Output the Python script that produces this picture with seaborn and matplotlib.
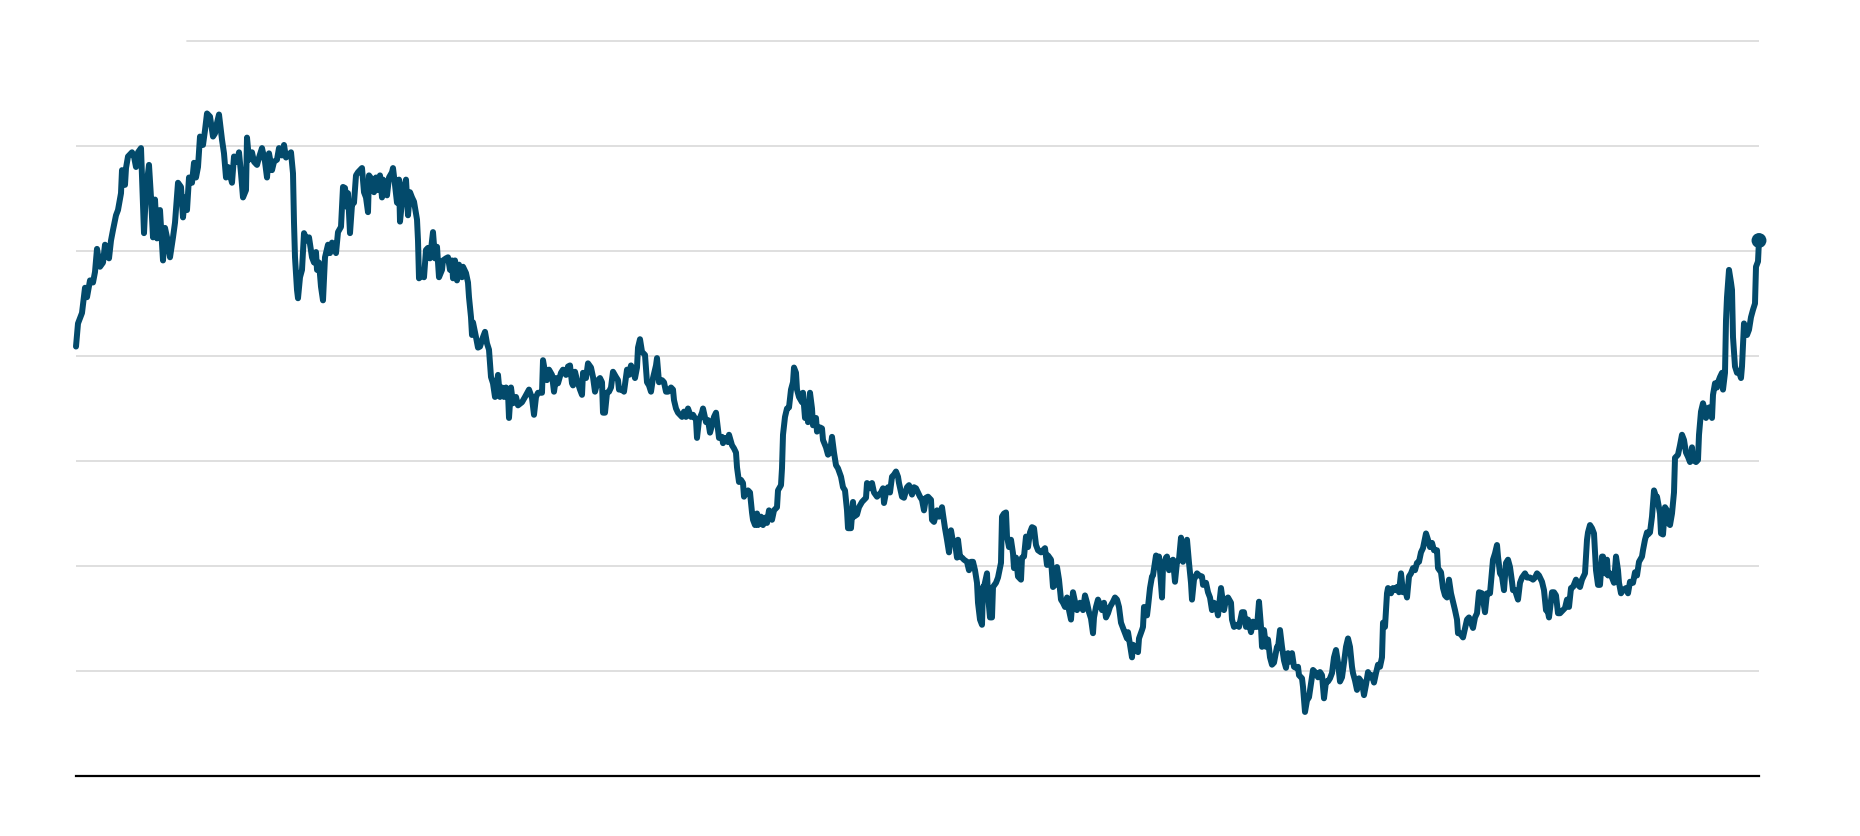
import pandas as pd
import seaborn as sns
import matplotlib.pyplot as plt

# weekly series (weeks since start, index value)
WEEK = [
    0, 2, 6, 9, 11, 14, 17, 19, 21, 24, 27, 29, 31, 33, 35, 37, 40, 42, 45, 46,
    49, 50, 52, 56, 58, 60, 62, 65, 66, 68, 70, 73, 75, 77, 79, 81, 84, 87, 89, 91,
    94, 97, 99, 102, 105, 107, 109, 111, 113, 116, 118, 120, 122, 124, 127, 129, 131, 134, 137, 139,
    141, 143, 146, 148, 150, 152, 156, 158, 161, 163, 165, 167, 170, 171, 173, 176, 178, 181, 183, 186,
    189, 191, 193, 196, 198, 201, 203, 206, 208, 210, 212, 215, 217, 218, 219, 221, 222, 224,
    226, 228, 231, 233, 236, 238, 240, 241, 243, 245, 247, 249, 252, 254, 256, 258, 260, 262, 265, 267,
    269, 271, 272, 274, 276, 278, 280, 282, 286, 288, 290, 292, 293, 296, 298, 300, 302, 304, 306, 307,
    309, 311, 313, 316, 317, 319, 321, 323, 324, 326, 327, 330, 332, 334, 336, 338, 341, 342, 343, 346,
    348, 350, 352, 354, 357, 359, 361, 363, 366, 367, 370, 372, 374, 376, 377, 379, 381, 383, 386, 387,
    390, 392, 393, 395, 396, 397, 400, 402, 404, 407, 409, 411, 413, 415, 417, 419, 421, 422, 424, 426,
    428, 430, 432, 433, 435, 437, 440, 442, 446, 449, 453, 456, 458, 460, 462,
    466, 467, 469, 471, 473, 476, 478, 480, 482, 485, 487, 490, 492, 494, 496, 497, 499, 501, 504, 506,
    507, 510, 512, 515, 517, 519, 522, 524, 526, 527, 529, 531, 533, 535, 537, 540, 542, 543, 546, 548,
    551, 553, 555, 557, 559, 561, 562, 564, 566, 569, 571, 573, 575, 577, 580, 581, 583, 586, 588, 590,
    592, 595, 597, 598, 600, 602, 604, 606, 608, 610, 612, 615, 617, 620, 621, 623, 626, 627, 630, 632,
    634, 636, 638, 640, 642, 643, 646, 647, 650, 652, 653, 656, 658, 660, 661, 663, 665, 667, 668, 670,
    672, 674, 676, 677, 679, 681, 682, 685, 687, 689, 691, 693,
    696, 698, 701, 702, 705, 706, 707, 709, 711, 713, 715, 717, 718, 720, 721, 723, 726, 727, 729, 731,
    732, 734, 736, 737, 740, 741, 744, 746, 747, 750, 752, 754, 756, 758, 760, 762, 765, 767, 769, 771,
    772, 775, 777, 778, 781, 783, 786, 788, 790, 791, 794, 796, 798, 801, 803, 805, 807, 808, 810, 812,
    814, 816, 818, 820, 822, 823, 826, 828, 831, 833, 836, 838, 840, 842, 844, 846, 848, 850, 852, 855,
    856, 858, 861, 863, 866, 867, 869, 871, 873, 875, 877, 879, 881, 882, 884, 886, 888, 891, 893, 895,
    897, 899, 901, 902, 904, 906, 907, 908, 911, 912, 914, 916, 917, 920, 922, 925, 926, 928, 930, 931,
    933, 935, 937, 938, 940, 942, 945, 946, 948, 950, 952, 954, 956, 958, 960, 962, 965, 967, 969, 971,
    972, 975, 977, 979, 981, 983, 985, 987, 989, 991, 993, 995, 997, 999, 1001, 1004, 1007, 1009, 1011, 1013,
    1015, 1017, 1018, 1020, 1022, 1024, 1026, 1028, 1030, 1032, 1034, 1037, 1039, 1041, 1043, 1045, 1047, 1049, 1051, 1052,
    1054, 1056, 1057, 1060, 1062, 1063, 1066, 1067, 1068, 1071, 1072, 1074, 1076, 1077, 1080, 1082, 1083, 1086, 1087, 1090,
    1091, 1093, 1095, 1097, 1099, 1101, 1103, 1105, 1107, 1108, 1111, 1113, 1115, 1116, 1118, 1121, 1123, 1126, 1127, 1130,
    1132, 1134, 1136, 1138, 1140, 1142, 1145, 1148, 1150, 1152, 1155,
    1156, 1158, 1161, 1163, 1166, 1168, 1170, 1172, 1175, 1177, 1179, 1181, 1183, 1185, 1186, 1188, 1190, 1192, 1194, 1196,
    1198, 1201, 1202, 1204, 1206, 1208, 1210, 1212, 1214, 1216, 1218, 1220, 1222, 1223, 1226, 1227, 1229, 1231, 1233, 1236,
    1237, 1240, 1242, 1244, 1246, 1248, 1250, 1252, 1254, 1256, 1258, 1260, 1262, 1264, 1266, 1268, 1270, 1272, 1274, 1276,
    1277, 1279, 1281, 1283, 1286, 1288, 1290, 1292, 1294, 1296, 1298, 1300, 1302, 1304, 1306, 1307, 1309, 1311, 1312, 1315,
    1317, 1319, 1321, 1323, 1325, 1327, 1329, 1331, 1333, 1335, 1337, 1339, 1341, 1343, 1345, 1347, 1350, 1352, 1354, 1356,
    1358, 1361, 1362, 1365, 1367, 1369, 1371, 1373, 1375, 1377, 1379, 1381, 1382,
    1384, 1387, 1391, 1393, 1397, 1399, 1401, 1403, 1406, 1409, 1411, 1414, 1417, 1419, 1421, 1422, 1424, 1426, 1428, 1430,
    1432, 1434, 1436, 1437, 1439, 1442, 1444, 1446, 1449, 1451, 1454, 1457, 1459, 1461, 1463, 1466, 1468, 1470, 1472, 1473,
    1476, 1478, 1480, 1482, 1484, 1487, 1489, 1491, 1493, 1495, 1497, 1500, 1502, 1504, 1506, 1509, 1511, 1512, 1514, 1516,
    1518, 1520, 1522, 1524, 1526, 1527, 1529, 1531, 1532, 1534, 1536, 1538, 1540, 1542, 1543, 1545, 1547, 1550, 1552, 1554,
    1557, 1559, 1561, 1563, 1566, 1567, 1569, 1571, 1572, 1574, 1576, 1578, 1580, 1581, 1584, 1585, 1587, 1589, 1591, 1592,
    1594, 1596, 1598, 1599, 1602, 1604, 1606, 1608, 1610, 1612, 1614, 1616, 1617, 1620, 1622, 1623, 1625, 1627, 1628, 1630,
    1632, 1633, 1636, 1637, 1639, 1641, 1642, 1644, 1646, 1647, 1649, 1650, 1651, 1653, 1655, 1656, 1657, 1659, 1661, 1663,
    1665, 1666, 1668, 1670, 1671, 1673, 1675, 1677, 1679, 1680, 1682, 1683,
]

VALUE = [
    40.9, 43.1, 44.1, 46.5, 45.6, 47.2, 47.0, 48.0, 50.2, 48.5, 48.9, 50.6, 50.1, 49.3, 51.0, 52.0, 53.4, 53.9, 55.5, 57.7,
    56.3, 57.9, 59.0, 59.4, 59.0, 58.0, 59.4, 59.8, 57.0, 51.7, 55.8, 58.2, 55.1, 51.3, 54.9, 51.2, 53.9, 49.1, 52.2, 51.3,
    49.4, 51.3, 52.7, 56.5, 56.1, 53.2, 55.1, 53.9, 57.0, 56.5, 58.4, 57.0, 58.0, 60.9, 60.1, 61.5, 63.1, 62.8, 60.9, 61.2,
    62.2, 63.0, 60.6, 59.3, 57.0, 58.0, 56.5, 59.0, 58.5, 59.4, 57.4, 55.1, 55.8, 60.8, 58.7, 59.4, 58.5, 58.2, 58.9, 59.8,
    58.5, 57.0, 59.3, 57.7, 58.5, 58.7, 59.8, 59.1, 60.1, 58.9, 59.1, 59.4, 57.4, 52.7, 49.4, 46.3, 45.5, 47.5,
    48.2, 51.7, 51.0, 51.3, 49.4, 48.9, 49.9, 48.2, 48.9, 46.6, 45.3, 49.4, 50.6, 49.8, 50.8, 50.6, 49.8, 51.8, 52.3, 56.1,
    56.0, 54.2, 55.5, 51.7, 54.4, 54.6, 57.2, 57.5, 57.9, 55.6, 55.1, 53.7, 57.2, 56.8, 55.6, 57.0, 55.8, 57.2, 55.1, 56.8,
    56.5, 55.3, 57.0, 57.5, 57.9, 56.3, 54.6, 56.8, 52.8, 54.7, 55.8, 56.8, 53.4, 55.6, 55.1, 54.7, 53.0, 51.0, 47.4, 47.7,
    47.5, 50.1, 50.3, 49.3, 51.8, 49.3, 50.4, 47.5, 48.2, 49.1, 49.3, 49.4, 48.2, 49.1, 47.4, 49.1, 47.2, 48.7, 47.5, 48.5,
    47.9, 47.0, 45.6, 43.7, 42.0, 43.2, 41.8, 40.8, 40.9, 41.8, 42.3, 41.2, 40.6, 38.0, 37.4, 36.1, 37.4, 38.2, 36.1, 37.0,
    36.1, 37.0, 36.5, 34.1, 37.0, 35.5, 36.1, 35.3, 35.6, 36.1, 36.8, 36.0, 34.4, 36.1, 36.5,
    36.5, 39.6, 38.5, 37.7, 38.7, 38.2, 36.6, 37.9, 37.4, 38.4, 38.7, 38.2, 39.0, 39.1, 37.4, 37.2, 38.5, 37.7, 36.8, 36.3,
    38.4, 37.9, 39.3, 38.9, 38.0, 36.6, 37.7, 37.9, 37.5, 34.6, 34.6, 36.5, 36.6, 37.0, 38.5, 38.0, 37.7, 36.8, 36.8, 36.6,
    38.7, 38.2, 39.1, 38.7, 37.9, 38.9, 40.8, 41.6, 40.4, 40.1, 37.5, 37.2, 36.6, 37.9, 39.1, 39.8, 37.5, 37.7, 37.5, 36.6,
    36.6, 37.0, 36.8, 35.8, 35.0, 34.6, 34.4, 34.2, 34.7, 34.2, 35.0, 34.2, 34.4, 33.9, 32.2, 33.9, 34.6, 35.0, 33.7, 33.9,
    32.7, 33.4, 34.2, 34.6, 33.0, 32.2, 32.3, 31.7, 32.2, 31.8, 32.5, 31.5, 31.2, 30.8, 29.4, 28.0, 28.2, 27.9, 26.6, 27.0,
    27.2, 27.0, 25.1, 24.4, 23.9, 25.0, 23.9, 24.7, 23.9, 24.6, 24.1, 25.3,
    24.4, 25.3, 25.6, 27.2, 27.7, 29.3, 32.5, 34.2, 35.0, 35.1, 36.8, 37.5, 38.9, 38.4, 36.8, 36.1, 35.6, 36.5, 34.1, 35.5,
    33.7, 36.5, 35.0, 33.4, 34.1, 32.8, 33.2, 33.1, 32.0, 31.3, 30.6, 30.8, 32.3, 30.8, 29.6, 29.3, 28.5, 27.5, 27.2, 25.3,
    23.6, 23.6, 26.1, 24.7, 24.9, 25.6, 26.1, 26.3, 26.5, 27.9, 27.4, 27.9, 27.0, 26.6, 26.8, 27.0, 27.4, 26.0, 27.0, 27.5,
    27.0, 28.5, 28.7, 29.0, 28.5, 27.9, 26.6, 26.5, 27.5, 27.7, 26.8, 27.5, 27.4, 27.0, 26.6, 26.3, 25.3, 26.5, 26.6, 26.3,
    24.4, 24.2, 25.3, 24.7, 25.6, 24.9, 23.6, 22.5, 21.3, 23.4, 22.3, 22.2, 20.8, 22.5, 20.9, 20.8, 20.6, 20.4, 19.6, 20.4,
    20.4, 19.6, 18.4, 16.5, 14.9, 14.4, 18.0, 18.0, 19.3, 17.2, 15.1, 15.1, 18.0, 18.4, 18.9, 20.3, 24.7, 25.0, 25.1, 22.8,
    21.8, 22.5, 21.2, 19.8, 20.8, 19.0, 18.7, 20.8, 20.9, 22.8, 21.8, 23.2, 23.7, 23.6, 22.0, 21.5, 21.3, 21.5, 21.7, 20.1,
    21.0, 20.6, 18.0, 18.2, 19.9, 18.7, 16.8, 16.5, 16.1, 17.0, 15.8, 14.9, 17.5, 16.6, 15.8, 16.5, 15.8, 17.2, 16.5, 15.6,
    15.0, 13.6, 15.1, 16.1, 16.8, 16.3, 15.8, 16.5, 15.1, 15.5, 16.1, 16.6, 17.0, 16.8, 16.1, 14.6, 14.1, 13.6, 13.1, 13.7,
    12.5, 11.3, 12.5, 12.0, 11.8, 13.1, 13.9, 14.2, 16.1, 15.3, 16.1, 17.9, 19.0, 19.1, 21.0, 19.9, 20.9, 17.0, 19.9, 20.8,
    20.9, 19.6, 20.3, 20.6, 18.5, 20.4, 20.6, 22.7, 20.4, 20.9, 22.5, 20.3, 18.4, 16.8, 18.7, 19.3, 19.1, 19.0, 18.2, 18.4,
    17.5, 17.0, 15.8, 16.5, 16.3, 15.3, 17.9, 15.8, 16.8, 17.0, 16.5,
    14.9, 14.2, 14.4, 14.2, 15.6, 15.6, 14.2, 14.9, 13.7, 14.7, 14.2, 14.2, 16.6, 14.2, 12.3, 13.9, 12.3, 13.0, 11.3, 10.6,
    10.8, 12.3, 12.2, 13.9, 12.3, 11.0, 10.3, 11.7, 10.9, 11.7, 10.4, 10.3, 10.4, 9.6, 9.3, 8.5, 6.1, 7.2, 7.5, 9.4,
    10.1, 9.8, 9.4, 9.9, 9.6, 7.4, 9.0, 9.0, 9.3, 9.8, 11.3, 12.0, 10.8, 9.0, 9.4, 10.8, 12.3, 13.1, 12.3, 10.4,
    9.8, 9.1, 8.2, 9.3, 8.9, 7.7, 8.7, 9.9, 9.4, 9.6, 8.9, 9.8, 10.6, 10.4, 11.3, 14.6, 14.2, 17.4, 17.9, 17.4,
    17.9, 17.7, 18.0, 17.5, 19.3, 17.5, 17.9, 17.0, 19.0, 19.3, 19.8, 19.6, 20.3, 20.4, 21.3, 21.7, 23.1, 22.5, 21.8, 22.2,
    21.5, 21.5, 19.8, 19.4, 17.9, 17.2, 17.0, 18.7, 17.4, 16.6, 15.8, 14.9, 13.6,
    13.6, 13.2, 14.9, 15.1, 14.1, 15.1, 15.5, 17.5, 17.4, 15.6, 17.4, 17.4, 20.6, 21.2, 22.0, 20.9, 19.3, 19.0, 17.7, 20.3,
    20.6, 19.9, 18.5, 17.7, 17.7, 16.8, 18.4, 18.9, 19.3, 18.9, 18.9, 18.7, 18.9, 19.3, 19.1, 18.5, 17.7, 15.8, 15.6, 15.1,
    17.5, 17.5, 17.2, 15.5, 15.5, 15.8, 16.0, 16.8, 16.1, 17.9, 18.0, 18.7, 18.2, 18.0, 18.7, 19.3, 22.5, 23.2, 23.9, 23.6,
    23.1, 19.6, 18.2, 18.2, 20.9, 20.9, 19.3, 20.6, 19.1, 19.3, 18.9, 18.4, 20.9, 19.6, 18.4, 17.4, 17.7, 17.9, 17.4, 18.5,
    18.4, 19.4, 19.1, 20.4, 20.9, 21.5, 22.5, 23.2, 23.0, 23.2, 24.7, 27.2, 26.6, 26.6, 25.0, 23.1, 23.0, 25.6, 25.3, 24.1,
    23.9, 25.0, 27.0, 30.3, 30.6, 31.5, 32.5, 32.0, 30.8, 30.4, 29.9, 31.3, 30.1, 29.9, 30.1, 32.5, 34.7, 35.5, 35.1, 34.1,
    35.0, 35.1, 34.1, 36.3, 37.4, 37.0, 37.5, 38.0, 38.4, 36.8, 38.4, 43.4, 45.6, 48.2, 47.0, 46.3, 41.8, 39.0, 38.4, 38.5,
    37.9, 39.0, 43.1, 42.2, 42.0, 42.5, 43.7, 44.4, 45.0, 48.5, 49.0, 51.0,
]

GRID_VALUES = [10, 20, 30, 40, 50, 60, 70]

LINE_COLOR = "#034a6b"
GRID_COLOR = "#dcdcdc"

sns.set_style("white")

fig = plt.figure(figsize=(18.6, 8.36), dpi=100)
ax = fig.add_axes([76 / 1860, 60 / 836, 1683 / 1860, 756 / 836])

df = pd.DataFrame({"week": WEEK, "value": VALUE})

# light horizontal guides, the top one leaves room on the left
for g in GRID_VALUES:
    start = 0.066 if g == GRID_VALUES[-1] else 0.0
    ax.axhline(g, xmin=start, xmax=1.0, color=GRID_COLOR, lw=1.3, zorder=0)

sns.lineplot(data=df, x="week", y="value", ax=ax, color=LINE_COLOR,
             linewidth=4.3, solid_joinstyle="round", solid_capstyle="round",
             clip_on=False, zorder=3)

# marker on the latest value
sns.scatterplot(x=[WEEK[-1]], y=[VALUE[-1]], ax=ax, color=LINE_COLOR,
                s=115, edgecolor="none", clip_on=False, zorder=4)

ax.set_xlim(WEEK[0], WEEK[-1])
ax.set_ylim(0, 72)
ax.set_xticks([])
ax.set_yticks([])
ax.set_xlabel("")
ax.set_ylabel("")

for side in ["top", "right", "left"]:
    ax.spines[side].set_visible(False)
ax.spines["bottom"].set_color("black")
ax.spines["bottom"].set_linewidth(1.6)

fig.savefig("out.png", dpi=100)
